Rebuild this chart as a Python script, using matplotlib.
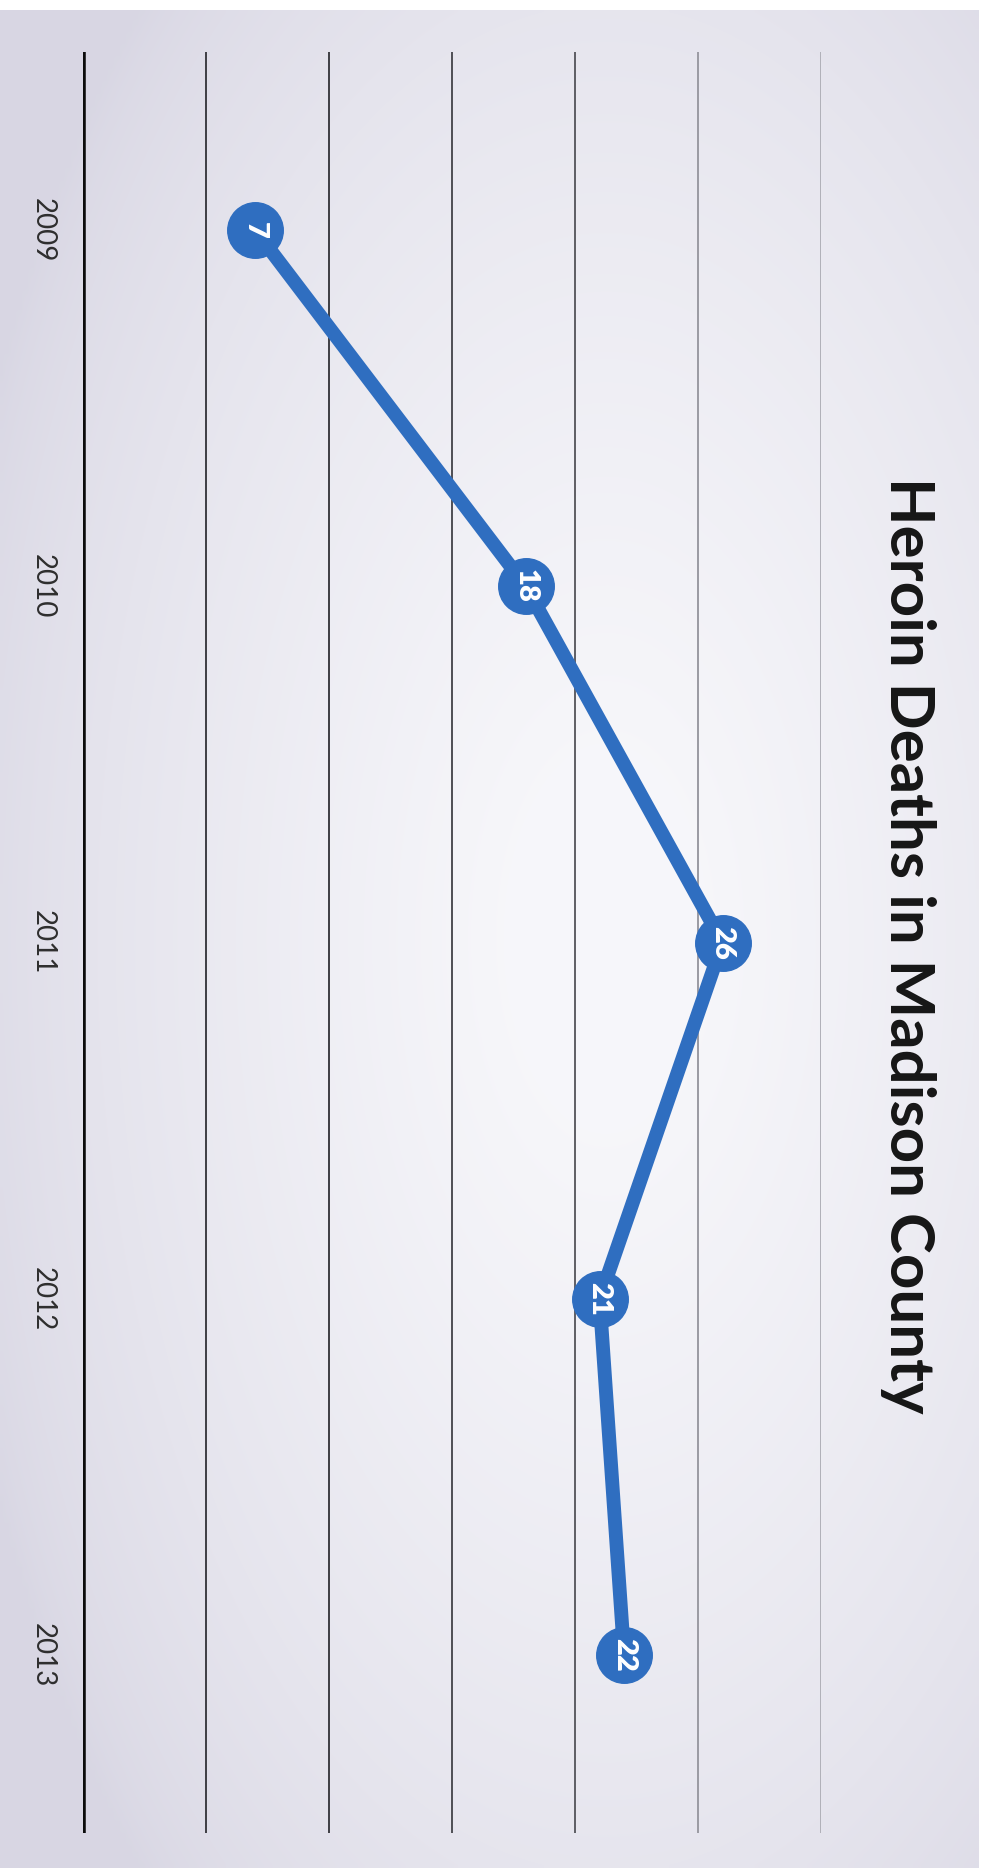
import numpy as np
import matplotlib
matplotlib.use("Agg")
import matplotlib.pyplot as plt

# ── data ───────────────────────────────────────────────────────────────────
years = ["2009", "2010", "2011", "2012", "2013"]
deaths = [7, 18, 26, 21, 22]
grid_ticks = [5, 10, 15, 20, 25, 30]
title = "Heroin Deaths in Madison County"

BLUE = "#2f6ec0"

fig = plt.figure(figsize=(9.82, 18.71), dpi=100, facecolor="white")

# ── scanned-paper background: lavender edges, pale centre ──────────────────
bg = fig.add_axes([0, 0.0016, 0.996, 0.9931])
bg.set_axis_off()
yy, xx = np.mgrid[0:1:300j, 0:1:160j]
d = np.sqrt(((xx - 0.62) / 0.6) ** 2 + ((yy - 0.5) / 0.6) ** 2)
w = np.clip(1.15 - d, 0, 1) ** 0.7
edge = np.array([0.850, 0.843, 0.893])
centre = np.array([0.968, 0.968, 0.982])
img = edge[None, None, :] * (1 - w[..., None]) + centre[None, None, :] * w[..., None]
bg.imshow(img, aspect="auto", extent=[0, 1, 0, 1], interpolation="bilinear")
bg.set_xlim(0, 1); bg.set_ylim(0, 1)

# ── main chart (rotated: values run left→right, years top→bottom) ─────────
ax = fig.add_axes([0.0845, 0.0203, 0.7515, 0.9519])
ax.patch.set_alpha(0)
for s in ax.spines.values():
    s.set_visible(False)

ax.set_xlim(0, 30)
ax.set_ylim(len(years) - 0.5, -0.5)

grid_colors = ["#3e3e44", "#3e3e44", "#4e4e54", "#5e5e64", "#9a9aa2", "#b0b0b8"]
for t, c in zip(grid_ticks, grid_colors):
    ax.axvline(t, color=c, lw=1.4, zorder=1)
ax.axvline(0, color="#0c0c0c", lw=4, zorder=2)

ax.set_xticks([])
ax.set_yticks(range(len(years)))
ax.set_yticklabels(years, rotation=270, va="center", ha="center",
                   fontsize=20, color="#2e2e2e", family="Lato")
ax.tick_params(axis="y", length=0, pad=29)

ypos = np.arange(len(years))
ax.plot(deaths, ypos, color=BLUE, lw=10, zorder=3, solid_capstyle="round")
ax.plot(deaths, ypos, linestyle="none", marker="o", markersize=40,
        markerfacecolor=BLUE, markeredgecolor=BLUE, zorder=4)
for v, y in zip(deaths, ypos):
    ax.text(v, y, str(v), rotation=270, ha="center", va="center",
            color="white", fontsize=21, fontweight="heavy", family="Lato",
            zorder=5)

fig.text(908 / 982, 1 - 945 / 1871, title, rotation=270, ha="center",
         va="center", fontsize=44.5, fontweight="bold", color="#161616",
         family="Lato")

fig.savefig("out.png", dpi=100, facecolor=fig.get_facecolor())
plt.close(fig)
